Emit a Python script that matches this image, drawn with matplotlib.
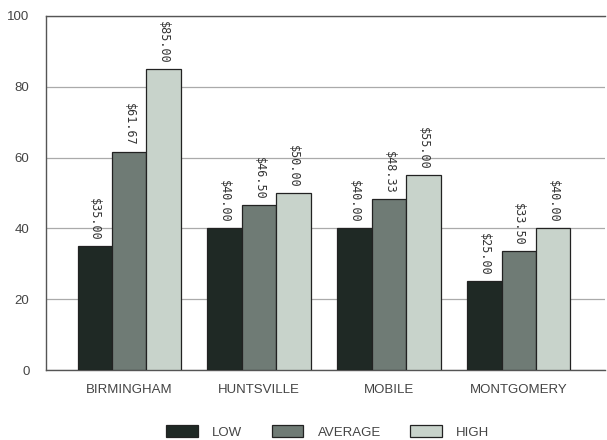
import numpy as np
import matplotlib.pyplot as plt

# price ranges by city
cities = ['BIRMINGHAM', 'HUNTSVILLE', 'MOBILE', 'MONTGOMERY']
low = [35.00, 40.00, 40.00, 25.00]
average = [61.67, 46.50, 48.33, 33.50]
high = [85.00, 50.00, 55.00, 40.00]
series_names = ['LOW', 'AVERAGE', 'HIGH']

colors = ['#1f2925', '#6f7b75', '#c8d3cb']

plt.rcParams['font.family'] = ['Liberation Sans', 'DejaVu Sans']

fig = plt.figure(figsize=(6.07, 4.40), dpi=100)
ax = fig.add_axes([0.076, 0.159, 0.92, 0.805])

ind = np.arange(len(cities))
width = 0.265

bars = []
for k, vals in enumerate([low, average, high]):
    rects = ax.bar(ind + (k - 1) * width, vals, width, color=colors[k],
                   edgecolor='#222222', linewidth=0.9, zorder=3,
                   label=series_names[k])
    bars.append(rects)
    for r, v in zip(rects, vals):
        ax.annotate('$%.2f' % v, (r.get_x() + r.get_width() / 2, v),
                    xytext=(0, 4), textcoords='offset points',
                    rotation=270, ha='center', va='bottom',
                    fontsize=8.5, family='DejaVu Sans Mono', color='#333333')

ax.set_xlim(-0.64, 3.66)
ax.set_ylim(0, 100)
ax.set_yticks([0, 20, 40, 60, 80, 100])
ax.set_xticks(ind)
ax.set_xticklabels(cities)
ax.yaxis.grid(True, color='#aaaaaa', linewidth=0.9, zorder=0)
ax.tick_params(axis='both', length=0, labelsize=9.5, colors='#444444')
ax.tick_params(axis='x', pad=10)
ax.tick_params(axis='y', pad=12)
for s in ax.spines.values():
    s.set_color('#555555')
    s.set_linewidth(1.0)
ax.spines['right'].set_visible(False)

fig.legend(handles=bars, labels=series_names, loc='center',
           bbox_to_anchor=(0.54, 0.018), ncol=3, frameon=False,
           fontsize=9.5, handlelength=2.4, handleheight=1.0,
           handletextpad=1.1, columnspacing=2.2, labelcolor='#444444')

fig.savefig('out.png', dpi=100)
